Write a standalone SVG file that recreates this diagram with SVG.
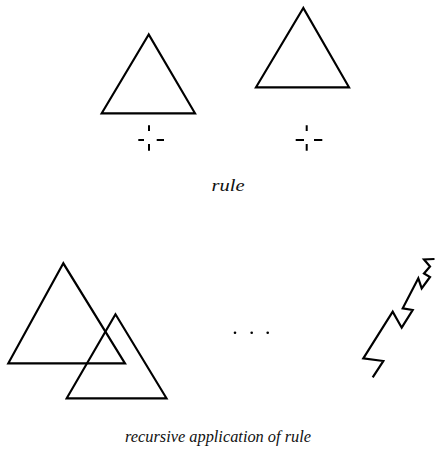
<svg xmlns="http://www.w3.org/2000/svg" width="437" height="460" viewBox="0 0 437 460">
<style>
.s{fill:none;stroke:#000;stroke-width:2.2;stroke-linejoin:miter}
.c{fill:none;stroke:#000;stroke-width:2}
.t{font-family:"Liberation Serif",serif;font-style:italic;font-size:17.5px;fill:#111}
</style>
<rect width="437" height="460" fill="#fff"/>
<g id="rule-left">
<polygon class="s" points="148.7,34.5 101.7,113.3 195,113.3"/>
<path class="c" d="M149,125.3V131M149,144V150.7M138.3,140H144M156.7,140H164"/>
</g>
<g id="rule-right">
<polygon class="s" points="303.3,8 256,87.3 349,87.3"/>
<path class="c" d="M306.7,125.3V131M306.7,144V150.7M295.7,140H304M314,140H322.3"/>
</g>
<text class="t" x="211.5" y="191" textLength="33" lengthAdjust="spacingAndGlyphs">rule</text>
<g id="big-triangle">
<polygon class="s" points="63.3,263.3 8.3,363.3 125,363.3"/>
</g>
<g id="small-triangle">
<polygon class="s" points="115.5,314.3 66.7,398.3 166.5,398.3"/>
</g>
<g id="dots" fill="#000">
<circle cx="235" cy="332.7" r="1.3"/>
<circle cx="251.7" cy="332.7" r="1.3"/>
<circle cx="267.7" cy="332.7" r="1.3"/>
</g>
<g id="zigzag">
<path class="s" d="M372.7,377.3L383.3,361L363.3,358.3L392.7,311.7L401.7,327.7L412.7,310L402.7,308.3L418.3,278.3L421.7,288.3L430,277L424,273.5L430,266.5L424,259.5L434.5,259"/>
</g>
<text class="t" x="125" y="442" textLength="186" lengthAdjust="spacingAndGlyphs">recursive application of rule</text>
</svg>
